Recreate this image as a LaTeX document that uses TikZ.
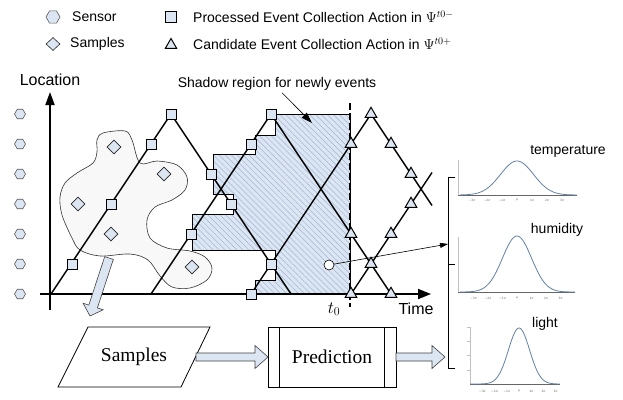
\documentclass[tikz,border=0pt]{standalone}
\usepackage{fontspec}
\newfontfamily\arialf{Liberation Sans}
\newfontfamily\tnrf{Liberation Serif}
\newfontfamily\dvsf{DejaVu Sans}
\usetikzlibrary{shapes.geometric,arrows.meta,patterns.meta}
\definecolor{mk}{RGB}{220,230,242}
\definecolor{hatchc}{RGB}{160,182,214}
\definecolor{blobc}{RGB}{248,248,248}
\definecolor{curvec}{RGB}{100,130,165}
\tikzset{
 sq/.style={rectangle, draw, line width=1pt, fill=mk, minimum size=10pt, inner sep=0pt},
 tri/.style={regular polygon, regular polygon sides=3, draw, line width=1pt, fill=mk, minimum size=13.5pt, inner sep=0pt},
 dia/.style={diamond, draw=black!85, line width=0.6pt, fill=mk, minimum width=14pt, minimum height=14pt, inner sep=0pt},
 hexa/.style={regular polygon, regular polygon sides=6, draw=black!65, line width=0.6pt, fill=mk, minimum size=11pt, inner sep=0pt},
 lbl/.style={font=\arialf\fontsize{14}{15}\selectfont, inner sep=0pt},
 big/.style={font=\arialf\fontsize{16}{17}\selectfont, inner sep=0pt},
 serif/.style={font=\tnrf\fontsize{19.5}{20}\selectfont, inner sep=0pt},
 ln/.style={line width=1.4pt, line join=round},
 fat/.style={fill=mk, draw=black!75, line width=0.6pt, line join=miter},
 tick/.style={font=\dvsf\fontsize{3}{3}\selectfont, inner sep=0pt, text=black!60},
 crv/.style={draw=curvec, line width=0.8pt},
 pax/.style={draw=black!25, line width=0.5pt},
 pbase/.style={draw=black!60, line width=0.6pt},
}
\begin{document}
\begin{tikzpicture}[x=1pt,y=-1pt]
\useasboundingbox (0,0) rectangle (623,399);
\fill[white] (0,0) rectangle (623,399);

% legend
\node[hexa, minimum size=14pt] (lgS) at (53,17) {};
\node[lbl, anchor=west] (lgSt) at (72,17) {Sensor};
\node[dia, minimum width=14pt, minimum height=13pt] (lgD) at (53,44) {};
\node[lbl, anchor=west] (lgDt) at (70,44) {Samples};
\node[sq, minimum size=11pt] (lgP) at (171,17) {};
\node[lbl, anchor=west] (lgPt) at (193,17) {Processed Event Collection Action in $\Psi^{t0-}$};
\node[tri, minimum size=13pt] (lgC) at (171,45) {};
\node[lbl, anchor=west] (lgCt) at (193,44) {Candidate Event Collection Action in $\Psi^{t0+}$};

% samples blob
\draw[draw=black!80, line width=0.6pt, fill=blobc] plot[smooth cycle, tension=0.55] coordinates {
(97,140) (103,133) (125,131) (132,140) (140,163) (157,161) (177,165) (187,177)
(185,190) (172,200) (155,207) (147,220) (150,238) (167,248) (190,251) (205,257)
(212,268) (207,280) (190,288) (172,287) (160,276) (148,260) (130,254) (100,256)
(80,250) (72,238) (62,215) (60,197) (65,183) (77,173) (93,163) (97,152)};

% shadow region
\def\shadowpath{(255,294) -- (255,280) -- (275,280) -- (275,250) -- (192,250) -- (192,214) -- (233,214) -- (233,194) -- (213,194) -- (213,154) -- (255,154) -- (255,135) -- (275,135) -- (275,114) -- (350,114) -- (350,294) -- cycle}
\fill[mk] \shadowpath;
\fill[pattern={Lines[angle=-45,distance=4.2pt,line width=0.5pt]}, pattern color=hatchc] \shadowpath;
\draw[line width=0.8pt] \shadowpath;

% sensors
\foreach \k in {0,...,6} \node[hexa] (sen\k) at (20,{294-30*\k}) {};

% axes
\coordinate (yo) at (50,310);
\coordinate (yt) at (50,92);
\coordinate (xo) at (40,294);
\coordinate (xt) at (431,294);
\draw[line width=1.8pt, -{Triangle[length=13pt,width=9pt]}] (yo) -- (yt);
\draw[line width=1.8pt, -{Triangle[length=13pt,width=10pt]}] (xo) -- (xt);

% trajectories
\coordinate (L1a) at (51,294); \coordinate (L1b) at (171,114); \coordinate (L1c) at (291,294);
\coordinate (L2a) at (151,294); \coordinate (L2b) at (271,114); \coordinate (L2c) at (391,294);
\coordinate (L3a) at (251,294); \coordinate (L3b) at (371,114); \coordinate (L3c) at (432,205.5);
\coordinate (L4a) at (351,294); \coordinate (L4b) at (432,172.5);
\draw[ln] (L1a) -- (L1b) -- (L1c);
\draw[ln] (L2a) -- (L2b) -- (L2c);
\draw[ln] (L3a) -- (L3b) -- (L3c);
\draw[ln] (L4a) -- (L4b);

% t0 dashed line
\coordinate (t0a) at (350,103);
\coordinate (t0b) at (350,307);
\draw[line width=1.5pt, dash pattern=on 7pt off 3pt] (t0a) -- (t0b);

% diamonds
\node[dia] (d1) at (114,147) {};
\node[dia] (d2) at (164,174) {};
\node[dia] (d3) at (78,204) {};
\node[dia] (d4) at (111,234) {};
\node[dia] (d5) at (192,267) {};

% squares
\node[sq] (p1) at (72,264) {};
\node[sq] (p2) at (111,204) {};
\node[sq] (p3) at (151,144) {};
\node[sq] (p4) at (171,114) {};
\node[sq] (p5) at (211,174) {};
\node[sq] (p6) at (231,204) {};
\node[sq] (p7) at (191,234) {};
\node[sq] (p8) at (251,144) {};
\node[sq] (p9) at (271,114) {};
\node[sq] (p10) at (251,294) {};
\node[sq] (p11) at (271,264) {};

% triangles
\node[tri] (c1) at (351,144) {};
\node[tri] (c2) at (371,114) {};
\node[tri] (c3) at (391,144) {};
\node[tri] (c4) at (411,174) {};
\node[tri] (c5) at (351,234) {};
\node[tri] (c6) at (371,264) {};
\node[tri] (c7) at (391,294) {};
\node[tri] (c8) at (351,294) {};
\node[tri] (c9) at (391,234) {};
\node[tri] (c10) at (411,204) {};

% labels
\node[big] (loc) at (50,80) {Location};
\node[big] (time) at (416,309) {Time};
\node[inner sep=0pt, font=\fontsize{17}{17}\selectfont] (t0) at (334,309) {$t_0$};
\node[lbl] (shl) at (277,84) {Shadow region for newly events};
\coordinate (sha) at (312,123);
\draw[line width=0.6pt, -{Triangle[length=11pt,width=7pt]}] ([xshift=5pt,yshift=-2pt]shl.south) -- (sha);

% point and arrow to bracket
\node[circle, draw, fill=white, minimum size=10pt, inner sep=0pt, line width=0.6pt] (pt) at (329,265) {};
\coordinate (brk) at (448,244);
\draw[line width=0.6pt, -{Triangle[length=8pt,width=5pt]}] (pt) -- (brk);

% bracket
\draw[line width=0.9pt] (455,177) -- (448,177) -- (448,368) -- (455,368);
\draw[line width=0.9pt] (448,264) -- (455,264);

% gaussian plots
\draw[pax] (458,160) -- (458,195);
\draw[pbase] (458,195) -- (577,195);
\draw[crv] plot[domain=460:577, samples=90] (\x, {195-34*exp(-0.5*((\x-517)/16.5)^2)});
\node[lbl] (temp) at (568,151) {temperature};
\draw[pax] (458,237) -- (458,292);
\draw[pbase] (458,292) -- (575,292);
\draw[crv] plot[domain=460:575, samples=90] (\x, {292-56*exp(-0.5*((\x-517)/14.5)^2)});
\node[lbl] (hum) at (557,230) {humidity};
\draw[pax] (470,327) -- (470,384);
\foreach \yy in {327,341,355,370} \draw[pax] (467,\yy) -- (470,\yy);
\draw[pbase] (470,384) -- (560,384);
\draw[crv] plot[domain=470:560, samples=90] (\x, {384-56*exp(-0.5*((\x-519)/10.6)^2)});
\node[lbl] (lig) at (545,324) {light};
\foreach \k/\t in {-3/−3σ,-2/−2σ,-1/−1σ,0/μ,1/1σ,2/2σ,3/3σ} {
  \node[tick] (ta\k) at ({517+15*\k},200) {\t};
  \node[tick] (tb\k) at ({517+14.5*\k},298) {\t};
  \node[tick] (tc\k) at ({519+12.2*\k},391) {\t};
}

% bottom flow
\draw[line width=0.8pt] (88,327) -- (210,327) -- (181,387) -- (58,387) -- cycle;
\node[serif] (samp) at (134,357) {Samples};
\node[draw, line width=0.8pt, minimum width=128pt, minimum height=60pt, inner sep=0pt, serif] (pred) at (332,357) {Prediction};
\draw[line width=0.8pt] ([xshift=12pt]pred.north west) -- ([xshift=12pt]pred.south west);
\draw[line width=0.8pt] ([xshift=-12pt]pred.north east) -- ([xshift=-12pt]pred.south east);
\draw[fat] (196,353) -- (255,353) -- (255,345.5) -- (268,357) -- (255,368.5) -- (255,361) -- (196,361) -- cycle;
\draw[fat] (396,353) -- (432,353) -- (432,345.5) -- (445,357) -- (432,368.5) -- (432,361) -- (396,361) -- cycle;
\draw[fat] (104.7,256.6) -- (113.3,259.4) -- (97.4,307.9) -- (103.1,309.8) -- (90,316) -- (83.1,303.2) -- (88.8,305.1) -- cycle;
\end{tikzpicture}
\end{document}
